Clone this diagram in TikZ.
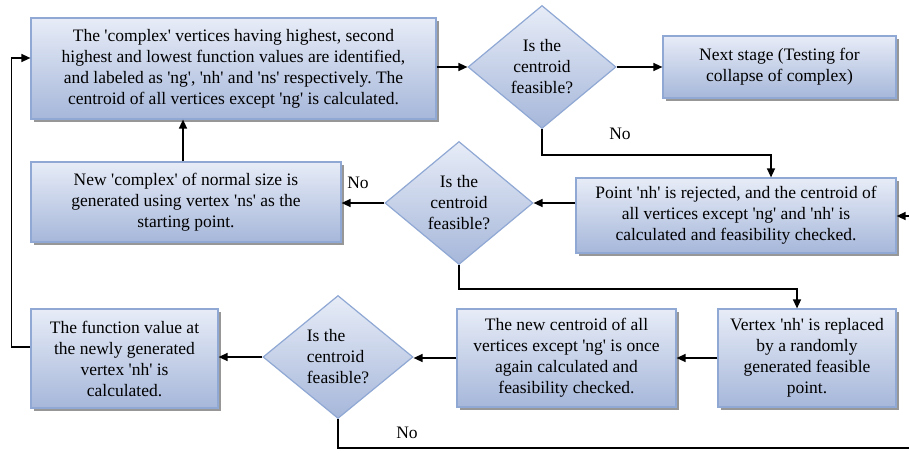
\documentclass[tikz,border=0pt]{standalone}
\usepackage{fontspec}
\setmainfont{Liberation Serif}[Ligatures=TeXOff]
\usetikzlibrary{shapes.geometric,shadows,arrows.meta}
\frenchspacing

\definecolor{boxtop}{HTML}{E7ECF7}
\definecolor{boxbot}{HTML}{A6B7DA}
\definecolor{boxline}{HTML}{8FA8D4}

\tikzset{
  every node/.style={font=\fontsize{17.5}{21}\selectfont},
  stepbox/.style={draw=boxline, line width=1.2pt, top color=boxtop, bottom color=boxbot,
    align=center, inner sep=0pt,
    drop shadow={shadow xshift=3pt, shadow yshift=-3pt, fill=black!45, opacity=0.9}},
  decision/.style={diamond, draw=boxline, line width=1.2pt, top color=boxtop, bottom color=boxbot,
    align=center, inner sep=0pt, aspect=1.2, minimum width=148pt, minimum height=123pt},
  flow/.style={line width=1.4pt, black},
  arr/.style={flow, -{Triangle[length=9pt,width=8pt]}},
  lbl/.style={inner sep=0pt}
}

\begin{document}
\begin{tikzpicture}[x=1pt,y=-1pt]
\useasboundingbox[fill=white] (0,0) rectangle (909,452);

% process boxes
\node[stepbox, minimum width=405pt, minimum height=101pt] (ident) at (233.5,68.5)
  {The 'complex' vertices having highest, second\\highest and lowest function values are identified,\\and labeled as 'ng', 'nh' and 'ns' respectively. The\\centroid of all vertices except 'ng' is calculated.};
\node[stepbox, minimum width=233pt, minimum height=62pt] (next) at (779.5,67)
  {Next stage (Testing for\\collapse of complex)};
\node[stepbox, minimum width=320pt, minimum height=75pt] (reject) at (736,215.5)
  {Point 'nh' is rejected, and the centroid of\\all vertices except 'ng' and 'nh' is\\calculated and feasibility checked.};
\node[stepbox, minimum width=310pt, minimum height=80pt] (newcx) at (186,202)
  {New 'complex' of normal size is\\generated using vertex 'ns' as the\\starting point.};
\node[stepbox, minimum width=178pt, minimum height=98pt] (replace) at (807,358)
  {Vertex 'nh' is replaced\\by a randomly\\generated feasible\\point.};
\node[stepbox, minimum width=219pt, minimum height=98pt] (again) at (566.5,358)
  {The new centroid of all\\vertices except 'ng' is once\\again calculated and\\feasibility checked.};
\node[stepbox, minimum width=187pt, minimum height=99pt] (fval) at (124.5,358.5)
  {The function value at\\the newly generated\\vertex 'nh' is\\calculated.};

% decisions
\node[decision] (d1) at (542,67) {Is the\\centroid\\feasible?};
\node[decision] (d2) at (459,203) {Is the\\centroid\\feasible?};
\node[decision, minimum width=150pt, align=left] (d3) at (338,357) {Is the\\centroid\\feasible?};

% labels
\node[lbl] (no1) at (620,134) {No};
\node[lbl] (no2) at (358,183) {No};
\node[lbl] (no3) at (407,433) {No};

% free ends leaving the drawing on the right
\coordinate (inR) at (909,216);
\coordinate (outR) at (909,448);

% connectors
\draw[arr] (ident.east |- d1.west) -- (d1.west);
\draw[arr] (d1.east) -- (next.west |- d1.east);
\draw[arr] (d1.south) -- ++(0,26) -| ([xshift=35pt]reject.north);
\draw[arr] (inR) -- (reject.east |- inR);
\draw[arr] (reject.west |- d2.east) -- (d2.east);
\draw[arr] (d2.west) -- (newcx.east |- d2.west);
\draw[arr] (newcx.north -| 183,0) -- (ident.south -| 183,0);
\draw[arr] (d2.south) -- ++(0,24) -| ([xshift=-10pt]replace.north);
\draw[arr] (replace.west) -- (again.east);
\draw[arr] (again.west) -- (d3.east |- again.west);
\draw[arr] (d3.west) -- (fval.east |- d3.west);
\draw[arr] ([yshift=11.5pt]fval.west) -- ++(-19,0) |- ([yshift=10.5pt]ident.west);
\draw[flow] (d3.south) |- (outR);
\end{tikzpicture}
\end{document}
